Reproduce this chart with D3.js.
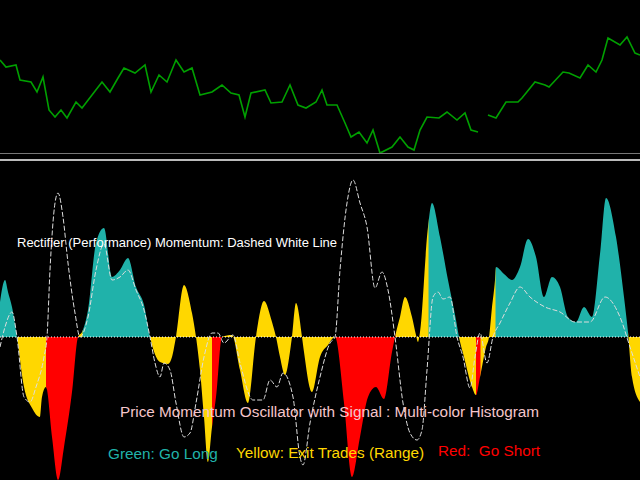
<!DOCTYPE html>
<html><head><meta charset="utf-8">
<script src="https://cdn.jsdelivr.net/npm/d3@7"></script>
<style>body{margin:0;background:#000}svg{display:block}text{white-space:pre}</style>
</head><body>
<script>
// Price panel (x position index, price level)
const priceX = [0,6,16,20,31,37,43,49,55,61,67,76,82,92,102,110,118,124,135,145,151,159,167,176,184,192,200,212,222,231,239,245,251,265,271,282,290,298,306,316,322,327,337,345,351,359,367,373,380,392,400,408,414,420,427,439,447,457,465,471,478,480,488,496,506,518,522,535,545,549,563,569,580,588,596,602,608,620,627,635,640];
const priceV = [140,133,135,120,118,108,123,90,83,90,82,98,92,105,118,108,122,132,127,135,108,125,118,140,128,132,105,108,115,107,105,83,107,110,97,98,115,95,92,98,110,95,95,77,63,68,57,70,47,53,63,53,50,70,83,82,88,80,87,70,68,null,85,82,98,98,102,118,115,113,128,127,122,135,128,140,162,155,163,147,145,133];
// Histogram
const histX = [0,5,8,12,17,24,32,40,42,46,52,58,64,72,78,82,88,96,104,112,120,128,136,144,150,160,168,172,176,184,192,196,200,204,208,212,216,222,232,240,248,256,264,272,276,280,285,292,296,302,304,312,320,328,335,344,352,360,368,376,384,392,395,400,405,412,416,418,420,428,432,440,448,456,459,464,472,476,480,486,489,492,495,496,504,512,520,528,536,544,552,560,568,576,584,592,600,606,616,624,628,632,640];
const histV = [35,57,45,30,0,-50,-71,-80,-60,-50,-100,-143,-110,-55,0,5,27,94,109,60,67,79,50,32,0,-25,-27,-20,0,52,24,0,-33,-80,-125,-90,-60,0,2,-33,-66,0,36,15,0,-20,-38,0,34,0,-15,-55,-20,-8,0,-66,-140,-100,-60,-50,-62,-15,0,20,40,20,2,-5,5,110,134,100,57,17,0,-20,-50,-58,-40,-10,0,30,57,70,63,57,70,98,80,40,60,50,20,15,30,20,83,139,100,40,5,-40,-65];
const histC = ["g","g","g","g","y","y","y","y","y","r","r","r","r","r","y","g","g","g","g","g","g","g","g","g","y","y","y","y","y","y","y","y","y","y","y","r","r","y","y","y","y","y","y","y","y","y","y","y","y","y","y","y","y","y","r","r","r","r","r","r","r","r","y","y","y","y","y","y","y","g","g","g","g","g","y","y","y","r","y","y","y","y","g","g","g","g","g","g","g","g","g","g","g","g","g","g","g","g","g","g","y","y","y"];
// Momentum (dashed)
const momX = [0,5,12,17,24,30,36,44,47,50,55,58,63,68,75,80,88,96,104,112,120,128,136,144,150,155,160,164,170,176,184,190,196,204,212,218,224,233,240,253,263,270,277,283,293,300,303,310,320,330,335,340,347,353,360,367,375,382,388,395,403,410,417,422,427,433,438,443,450,457,463,470,475,480,487,493,500,510,520,530,545,560,575,590,605,620,630,640];
const momV = [-10,10,25,0,-60,-65,-50,-20,0,67,134,144,120,74,24,0,20,67,93,57,60,67,47,27,0,-26,-40,-26,-33,-66,-100,-96,-66,-20,4,4,-6,2,-26,-63,-63,-43,-50,-36,-60,-120,-128,-86,-40,-6,0,67,134,157,134,110,49,65,47,0,-66,-96,-103,-93,-33,40,45,38,40,0,-20,-51,-20,4,-26,0,14,34,50,40,30,25,15,15,40,20,-10,-40];
const colors = {g:"#20b2aa", y:"#ffd700", r:"#ff0000"};

const W=640,H=480;
const svg=d3.select("body").append("svg").attr("width",W).attr("height",H).style("background","#000");
const x=d3.scaleLinear().domain([0,640]).range([0,640]);
const yP=d3.scaleLinear().domain([0,200]).range([200,0]);
const yH=d3.scaleLinear().domain([-143,167]).range([480,170]);

const pl=d3.line().defined(d=>d[1]!==null).x(d=>x(d[0])).y(d=>yP(d[1]));
svg.append("path").datum(priceX.map((v,i)=>[v,priceV[i]])).attr("d",pl)
 .attr("fill","none").attr("stroke","#00a000").attr("stroke-width",1.6);
svg.append("line").attr("x1",0).attr("x2",W).attr("y1",153.5).attr("y2",153.5).attr("stroke","#777").attr("stroke-width",1);
svg.append("line").attr("x1",0).attr("x2",W).attr("y1",160).attr("y2",160).attr("stroke","#bbb").attr("stroke-width",2);

const hd=histX.map((v,i)=>[v,histV[i]]);
const area=d3.area().x(d=>x(d[0])).y0(yH(0)).y1(d=>yH(d[1])).curve(d3.curveMonotoneX);
const defs=svg.append("defs");
Object.keys(colors).forEach(c=>{
  const cp=defs.append("clipPath").attr("id","clip-"+c);
  for(let i=0;i<histX.length-1;i++) if(histC[i]===c)
    cp.append("rect").attr("x",x(histX[i])).attr("width",x(histX[i+1])-x(histX[i])+0.5).attr("y",0).attr("height",H);
  svg.append("path").datum(hd).attr("d",area).attr("fill",colors[c]).attr("clip-path","url(#clip-"+c+")");
});
svg.append("line").attr("x1",0).attr("x2",W).attr("y1",yH(0)).attr("y2",yH(0)).attr("stroke","#fff").attr("stroke-dasharray","1,2");
const ml=d3.line().x(d=>x(d[0])).y(d=>yH(d[1])).curve(d3.curveMonotoneX);
svg.append("path").datum(momX.map((v,i)=>[v,momV[i]])).attr("d",ml)
 .attr("fill","none").attr("stroke","#ddd").attr("stroke-width",1).attr("stroke-dasharray","5,2");

const f="Liberation Sans, Arial, sans-serif";
svg.append("text").attr("x",17).attr("y",247).attr("fill","#fff").attr("font-family",f).attr("font-size",13).text("Rectifier (Performance) Momentum: Dashed White Line");
svg.append("text").attr("x",120).attr("y",417).attr("fill","#f5c6cb").attr("font-family",f).attr("font-size",15.3).text("Price Momentum Oscillator with Signal : Multi-color Histogram");
svg.append("text").attr("x",108).attr("y",459).attr("fill","#20b2aa").attr("font-family",f).attr("font-size",15.3).text("Green: Go Long");
svg.append("text").attr("x",236).attr("y",458).attr("fill","#ffd700").attr("font-family",f).attr("font-size",15.3).text("Yellow: Exit Trades (Range)");
svg.append("text").attr("x",438).attr("y",456).attr("fill","#ff0000").attr("font-family",f).attr("font-size",15.3).attr("xml:space","preserve").text("Red:  Go Short");
</script>
</body></html>
